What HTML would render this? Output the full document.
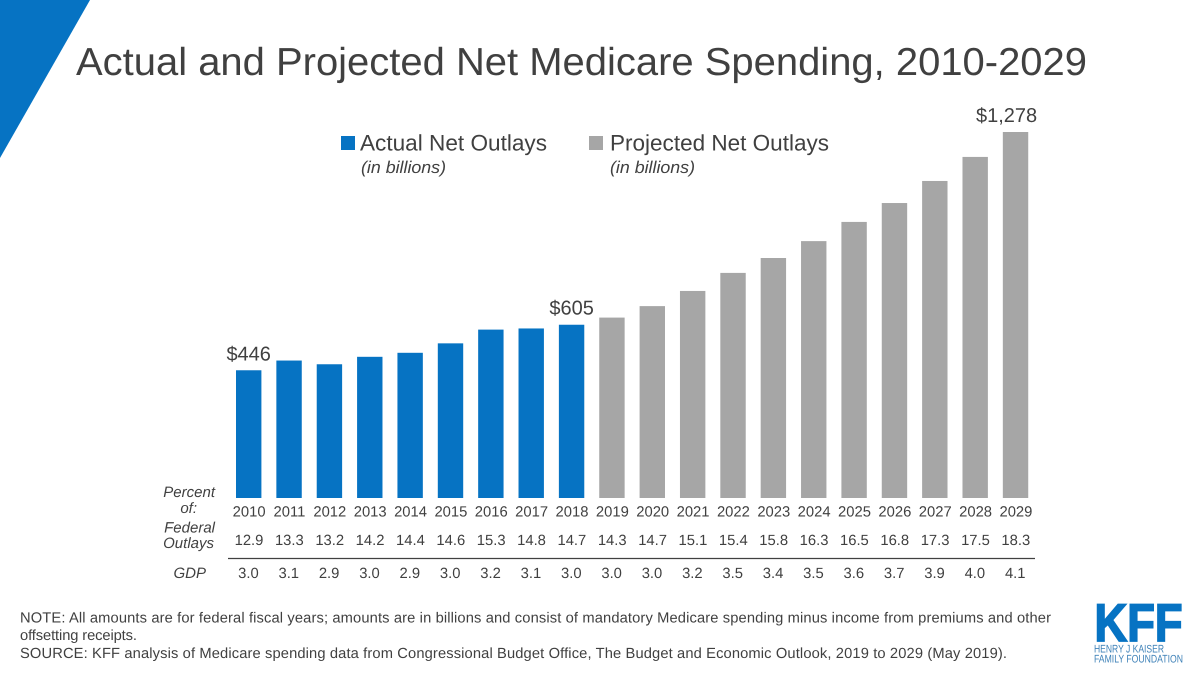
<!DOCTYPE html>
<html lang="en">
<head>
<meta charset="utf-8">
<title>Actual and Projected Net Medicare Spending, 2010-2029</title>
<style>
html,body{margin:0;padding:0;background:#fff;}
svg{display:block;font-family:"Liberation Sans",sans-serif;text-rendering:geometricPrecision;}
text{fill:#404040;}
</style>
</head>
<body>
<svg id="chart" xmlns="http://www.w3.org/2000/svg" width="1200" height="675" viewBox="0 0 1200 675">
  <rect x="0" y="0" width="1200" height="675" fill="#ffffff"/>
  <polygon points="0,0 90,0 0,158" fill="#0673c3"/>
  <text x="76" y="75" font-size="39" textLength="1011" lengthAdjust="spacingAndGlyphs">Actual and Projected Net Medicare Spending, 2010-2029</text>

  <g>
    <rect x="341" y="136" width="14" height="14" fill="#0673c3"/>
    <text x="360" y="150.500" font-size="22.500" textLength="187" lengthAdjust="spacingAndGlyphs">Actual Net Outlays</text>
    <text x="361" y="173" font-size="17" font-style="italic" textLength="85" lengthAdjust="spacingAndGlyphs">(in billions)</text>
    <rect x="589" y="136" width="14" height="14" fill="#a6a6a6"/>
    <text x="610" y="150.500" font-size="22.500" textLength="219" lengthAdjust="spacingAndGlyphs">Projected Net Outlays</text>
    <text x="610" y="173" font-size="17" font-style="italic" textLength="85" lengthAdjust="spacingAndGlyphs">(in billions)</text>
  </g>

  <g id="bars"></g>
  <g id="value-labels"></g>
  <g id="year-row"></g>
  <g id="federal-row"></g>
  <g id="gdp-row"></g>

  <g font-size="15" font-style="italic" text-anchor="end">
    <text x="215" y="497">Percent</text>
    <text x="197" y="513">of:</text>
    <text x="215" y="532.500">Federal</text>
    <text x="214" y="548">Outlays</text>
    <text x="206" y="578">GDP</text>
  </g>
  <line x1="228" y1="558.500" x2="1035" y2="558.500" stroke="#404040" stroke-width="1.200"/>

  <g font-size="14.700">
    <text x="20" y="622.500" textLength="1031" lengthAdjust="spacing">NOTE: All amounts are for federal fiscal years; amounts are in billions and consist of mandatory Medicare spending minus income from premiums and other</text>
    <text x="20" y="640" textLength="117" lengthAdjust="spacing">offsetting receipts.</text>
    <text x="20" y="658" textLength="987" lengthAdjust="spacing">SOURCE: KFF analysis of Medicare spending data from Congressional Budget Office, The Budget and Economic Outlook, 2019 to 2029 (May 2019).</text>
  </g>

  <g>
    <text x="1094.500" y="641" font-size="53" font-weight="bold" textLength="88" lengthAdjust="spacingAndGlyphs" style="fill:#0673c3;stroke:#0673c3;stroke-width:1.800">KFF</text>
    <text x="1094" y="652.500" font-size="11" textLength="70" lengthAdjust="spacingAndGlyphs" style="fill:#3f82b8">HENRY J KAISER</text>
    <text x="1094" y="662.500" font-size="11" textLength="89" lengthAdjust="spacingAndGlyphs" style="fill:#3f82b8">FAMILY FOUNDATION</text>
  </g>
</svg>
<script>
const years = [2010,2011,2012,2013,2014,2015,2016,2017,2018,2019,2020,2021,2022,2023,2024,2025,2026,2027,2028,2029];
const actualOutlays = [446,480,467,493,507,540,588,592,605];
const projectedOutlays = [630,670,723,786,838,897,964,1030,1107,1191,1278];
const federalPercent = ["12.9","13.3","13.2","14.2","14.4","14.6","15.3","14.8","14.7","14.3","14.7","15.1","15.4","15.8","16.3","16.5","16.8","17.3","17.5","18.3"];
const gdpPercent = ["3.0","3.1","2.9","3.0","2.9","3.0","3.2","3.1","3.0","3.0","3.0","3.2","3.5","3.4","3.5","3.6","3.7","3.9","4.0","4.1"];
const labelledYears = [2010,2018,2029];

const NS = 'http://www.w3.org/2000/svg';
const baseY = 498;
const topY = 132;
const maxDomain = 1278;
const firstX = 248.7;
const stepX = 40.36;
const barWidth = 25.4;

function xScale(i) { return firstX + i * stepX; }
function yScale(v) { return baseY - (v / maxDomain) * (baseY - topY); }

function addText(parent, x, y, size, content) {
  const t = document.createElementNS(NS, 'text');
  t.setAttribute('x', x.toFixed(2));
  t.setAttribute('y', y.toFixed(2));
  t.setAttribute('font-size', size);
  t.setAttribute('text-anchor', 'middle');
  t.textContent = content;
  parent.appendChild(t);
  return t;
}

const barsGroup = document.getElementById('bars');
const labelGroup = document.getElementById('value-labels');
const yearGroup = document.getElementById('year-row');
const federalGroup = document.getElementById('federal-row');
const gdpGroup = document.getElementById('gdp-row');
const allValues = actualOutlays.concat(projectedOutlays);

years.forEach(function (year, i) {
  const value = allValues[i];
  const bar = document.createElementNS(NS, 'rect');
  
  
  bar.setAttribute('x', (xScale(i) - barWidth / 2).toFixed(2));
  bar.setAttribute('y', yScale(value).toFixed(2));
  bar.setAttribute('width', barWidth);
  bar.setAttribute('height', (baseY - yScale(value)).toFixed(2));
  bar.setAttribute('fill', i < actualOutlays.length ? '#0673c3' : '#a6a6a6');
  barsGroup.appendChild(bar);

  if (labelledYears.indexOf(year) !== -1) {
    const shift = i === years.length - 1 ? -9 : 0;
    const label = addText(labelGroup, xScale(i) + shift, yScale(value) - 10, 20, '$' + value.toLocaleString('en-US'));
    
    
  }

  const yearLabel = addText(yearGroup, xScale(i) + 0.4, 516.5, 14.8, String(year));
  
  

  const federal = addText(federalGroup, xScale(i) + 0.3, 545, 14.8, federalPercent[i]);
  
  

  const gdp = addText(gdpGroup, xScale(i) - 0.3, 578, 14.8, gdpPercent[i]);
  
  
});
</script>
</body>
</html>
